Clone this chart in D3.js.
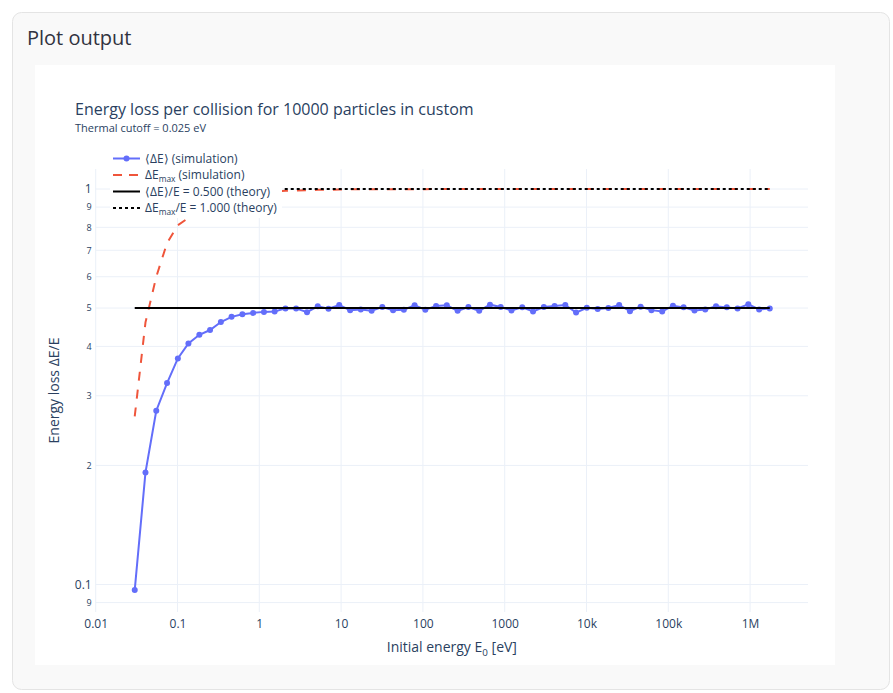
<!DOCTYPE html>
<html><head><meta charset="utf-8">
<script src="https://cdn.jsdelivr.net/npm/d3@7"></script>
<style>
html,body{margin:0;padding:0;background:#ffffff;}
body{width:893px;height:693px;overflow:hidden;}
svg text{font-family:"Open Sans",verdana,arial,sans-serif;}
</style></head><body>
<svg id="chart" width="893" height="693"></svg>
<script>
// ---------- data ----------
const energies = [0.030, 0.0406, 0.0550, 0.0745, 0.101, 0.136, 0.185, 0.250, 0.339, 0.458,
  0.621, 0.841, 1.14, 1.54, 2.09, 2.82, 3.83, 5.18, 7.01, 9.49,
  12.9, 17.4, 23.6, 31.9, 43.2, 58.5, 79.2, 107, 145, 196,
  266, 360, 488, 661, 894, 1210, 1640, 2220, 3010, 4070,
  5510, 7460, 10100, 13700, 18500, 25100, 34000, 45900, 62200, 84200,
  114000, 154000, 209000, 283000, 383000, 519000, 703000, 951000, 1290000, 1740000];
const meanLoss = [0.0968, 0.192, 0.275, 0.323, 0.373, 0.407, 0.428, 0.440, 0.461, 0.475,
  0.482, 0.486, 0.489, 0.490, 0.499, 0.499, 0.488, 0.505, 0.498, 0.509,
  0.494, 0.496, 0.492, 0.503, 0.494, 0.495, 0.508, 0.495, 0.506, 0.508,
  0.492, 0.503, 0.492, 0.510, 0.503, 0.493, 0.502, 0.490, 0.503, 0.506,
  0.509, 0.487, 0.501, 0.497, 0.500, 0.509, 0.491, 0.504, 0.494, 0.490,
  0.507, 0.502, 0.493, 0.496, 0.505, 0.502, 0.499, 0.511, 0.496, 0.499];
const maxLoss = [0.266, 0.46, 0.60, 0.73, 0.81, 0.845, 0.875, 0.90, 0.925, 0.945,
  0.958, 0.970, 0.978, 0.985, 0.990, 0.992, 0.993, 0.995, 0.996, 0.997,
  0.998, 0.998, 0.999, 0.999, 0.999, 0.999, 0.999, 0.999, 1.0, 1.0,
  1.0, 1.0, 1.0, 1.0, 1.0, 1.0, 1.0, 1.0, 1.0, 1.0,
  1.0, 1.0, 1.0, 1.0, 1.0, 1.0, 1.0, 1.0, 1.0, 1.0,
  1.0, 1.0, 1.0, 1.0, 1.0, 1.0, 1.0, 1.0, 1.0, 1.0];
const theoryMean = 0.5;
const theoryMax = 1.0;

const xTickVals = [0.01, 0.1, 1, 10, 100, 1000, 1e4, 1e5, 1e6];
const xTickLabels = ["0.01", "0.1", "1", "10", "100", "1000", "10k", "100k", "1M"];
const yTickVals = [0.09, 0.1, 0.2, 0.3, 0.4, 0.5, 0.6, 0.7, 0.8, 0.9, 1];
const yTickLabels = ["9", "0.1", "2", "3", "4", "5", "6", "7", "8", "9", "1"];
const yTickMajor = [false, true, false, false, false, false, false, false, false, false, true];

const legendItems = [
  {segs: [{t: "\u27E8\u0394E\u27E9 (simulation)"}], kind: "blue"},
  {segs: [{t: "\u0394E"}, {t: "max", sub: true}, {t: " (simulation)"}], kind: "red"},
  {segs: [{t: "\u27E8\u0394E\u27E9/E = 0.500 (theory)"}], kind: "solid"},
  {segs: [{t: "\u0394E"}, {t: "max", sub: true}, {t: "/E = 1.000 (theory)"}], kind: "dot"}
];

// ---------- layout ----------
const TXT = "#2a3f5f", GRID = "#EBF0F8";
const BLUE = "#636efa", RED = "#EF553B";
const P = {left: 95.7, right: 808, top: 169, bottom: 612};

const svg = d3.select("#chart");

// page card
svg.append("rect").attr("x", 12.5).attr("y", 12.5).attr("width", 877).attr("height", 677)
  .attr("rx", 9).attr("fill", "#f9f9f9").attr("stroke", "#e4e4e4");
svg.append("text").attr("x", 27).attr("y", 45).attr("font-size", 20).attr("fill", "#31333f")
  .text("Plot output");
svg.append("rect").attr("x", 35).attr("y", 65).attr("width", 800).attr("height", 600).attr("fill", "#fff");

const x = d3.scaleLog().domain([0.01, Math.pow(10, 6.708)]).range([P.left, P.right]);
const y = d3.scaleLog().domain([Math.pow(10, -1.0696), Math.pow(10, 0.0506)]).range([P.bottom, P.top]);

// grid
const grid = svg.append("g");
grid.selectAll("line.v").data(xTickVals).join("line")
  .attr("x1", d => x(d)).attr("x2", d => x(d)).attr("y1", P.top).attr("y2", P.bottom)
  .attr("stroke", GRID).attr("stroke-width", 1);
grid.selectAll("line.h").data(yTickVals).join("line")
  .attr("y1", d => y(d)).attr("y2", d => y(d)).attr("x1", P.left).attr("x2", P.right)
  .attr("stroke", GRID).attr("stroke-width", 1);

// clip
svg.append("clipPath").attr("id", "clip").append("rect")
  .attr("x", P.left).attr("y", P.top).attr("width", P.right - P.left).attr("height", P.bottom - P.top);
const plot = svg.append("g").attr("clip-path", "url(#clip)");

const line = d3.line().x(d => x(d[0])).y(d => y(d[1]));
const meanPts = energies.map((e, i) => [e, meanLoss[i]]);
const maxPts = energies.map((e, i) => [e, maxLoss[i]]);
const xEnds = [energies[0], energies[energies.length - 1]];

plot.append("path").attr("d", line(meanPts)).attr("fill", "none").attr("stroke", BLUE).attr("stroke-width", 2);
plot.selectAll("circle").data(meanPts).join("circle")
  .attr("cx", d => x(d[0])).attr("cy", d => y(d[1])).attr("r", 3).attr("fill", BLUE);
plot.append("path").attr("d", line(maxPts)).attr("fill", "none").attr("stroke", RED)
  .attr("stroke-width", 2).attr("stroke-dasharray", "9,9");
plot.append("path").attr("d", line(xEnds.map(e => [e, theoryMean]))).attr("fill", "none")
  .attr("stroke", "#000").attr("stroke-width", 2);
plot.append("path").attr("d", line(xEnds.map(e => [e, theoryMax]))).attr("fill", "none")
  .attr("stroke", "#000").attr("stroke-width", 2).attr("stroke-dasharray", "3,3");

// axes
const xAxis = d3.axisBottom(x).tickValues(xTickVals).tickFormat((d, i) => xTickLabels[i]).tickSize(0).tickPadding(7);
const gx = svg.append("g").attr("transform", `translate(0,${P.bottom})`).call(xAxis);
gx.select(".domain").remove();
gx.selectAll("text").attr("font-size", 12).attr("fill", TXT).attr("font-family", null);

const yAxis = d3.axisLeft(y).tickValues(yTickVals).tickFormat((d, i) => yTickLabels[i]).tickSize(0).tickPadding(4);
const gy = svg.append("g").attr("transform", `translate(${P.left},0)`).call(yAxis);
gy.select(".domain").remove();
gy.selectAll("text").attr("fill", TXT).attr("font-family", null)
  .attr("font-size", (d, i) => yTickMajor[i] ? 12 : 9);

// axis titles
svg.append("text").attr("x", (P.left + P.right) / 2).attr("y", 652).attr("text-anchor", "middle")
  .attr("font-size", 14).attr("fill", TXT)
  .call(t => {
    t.append("tspan").text("Initial energy E");
    t.append("tspan").attr("font-size", 9.8).attr("dy", 4).text("0");
    t.append("tspan").attr("dy", -4).text(" [eV]");
  });
svg.append("text").attr("transform", `translate(59,${(P.top + P.bottom) / 2}) rotate(-90)`)
  .attr("text-anchor", "middle").attr("font-size", 14).attr("fill", TXT).text("Energy loss \u0394E/E");

// title
svg.append("text").attr("x", 75).attr("y", 114.5).attr("font-size", 16).attr("fill", TXT)
  .text("Energy loss per collision for 10000 particles in custom");
svg.append("text").attr("x", 75).attr("y", 131.5).attr("font-size", 11).attr("fill", TXT)
  .text("Thermal cutoff = 0.025 eV");

// legend
const L = {x: 110, y: 148, w: 172, h: 70, rowY0: 158.5, rowDy: 16.5, lx0: 113, lx1: 140, tx: 145};
const lg = svg.append("g");
lg.append("rect").attr("x", L.x).attr("y", L.y).attr("width", L.w).attr("height", L.h).attr("fill", "#fff");
legendItems.forEach((it, i) => {
  const cy = L.rowY0 + i * L.rowDy;
  const ln = lg.append("line").attr("x1", L.lx0).attr("x2", L.lx1).attr("y1", cy).attr("y2", cy)
    .attr("stroke-width", 2);
  if (it.kind === "blue") {
    ln.attr("stroke", BLUE);
    lg.append("circle").attr("cx", (L.lx0 + L.lx1) / 2).attr("cy", cy).attr("r", 3).attr("fill", BLUE);
  } else if (it.kind === "red") {
    ln.attr("stroke", RED).attr("stroke-dasharray", "9,7");
  } else if (it.kind === "solid") {
    ln.attr("stroke", "#000");
  } else {
    ln.attr("stroke", "#000").attr("stroke-dasharray", "3,3");
  }
  const t = lg.append("text").attr("x", L.tx).attr("y", cy + 4.3).attr("font-size", 12).attr("fill", TXT);
  it.segs.forEach((s, j) => {
    const prevSub = j > 0 && it.segs[j - 1].sub;
    const sp = t.append("tspan").text(s.t);
    if (s.sub) sp.attr("font-size", 8.4).attr("dy", 3);
    else if (prevSub) sp.attr("dy", -3);
  });
});
</script></body></html>
